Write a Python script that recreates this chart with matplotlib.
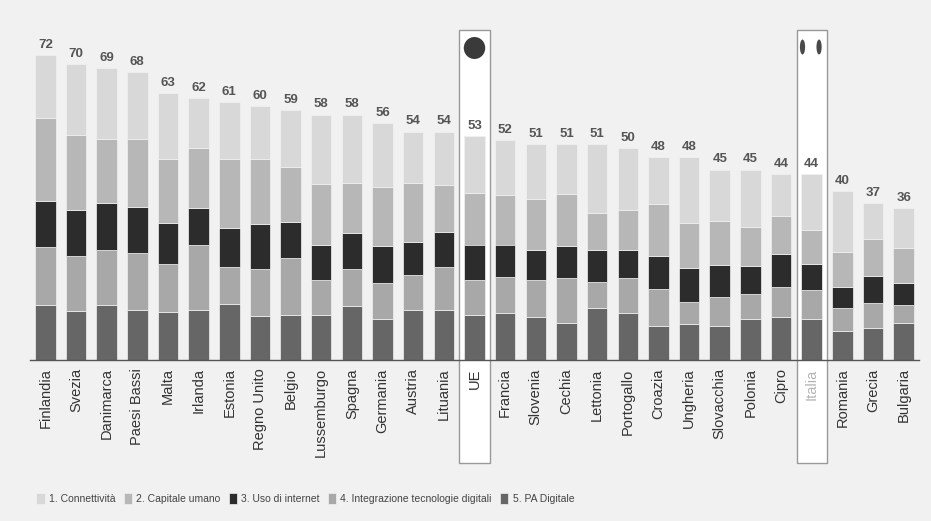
import matplotlib
matplotlib.use("Agg")
import matplotlib.pyplot as plt
import numpy as np
from matplotlib.patches import Rectangle, Ellipse
from matplotlib.transforms import blended_transform_factory

plt.rcParams['font.family'] = ['Liberation Sans', 'DejaVu Sans']

paesi = ['Finlandia', 'Svezia', 'Danimarca', 'Paesi Bassi', 'Malta', 'Irlanda',
         'Estonia', 'Regno Unito', 'Belgio', 'Lussemburgo', 'Spagna', 'Germania',
         'Austria', 'Lituania', 'UE', 'Francia', 'Slovenia', 'Cechia', 'Lettonia',
         'Portogallo', 'Croazia', 'Ungheria', 'Slovacchia', 'Polonia', 'Cipro',
         'Italia', 'Romania', 'Grecia', 'Bulgaria']

totale = [72, 70, 69, 68, 63, 62, 61, 60, 59, 58, 58, 56, 54, 54, 53, 52, 51, 51,
          51, 50, 48, 48, 45, 45, 44, 44, 40, 37, 36]

# componenti dal basso verso l'alto
pa_digitale = [13.0, 11.6, 13.0, 11.8, 11.4, 11.8, 13.2, 10.4, 10.6, 10.6, 12.7, 9.6,
               11.8, 11.8, 10.6, 11.0, 10.2, 8.8, 12.4, 11.0, 8.0, 8.5, 8.0, 9.8,
               10.2, 9.8, 6.9, 7.5, 8.8]
integrazione = [13.7, 13.0, 13.0, 13.5, 11.4, 15.3, 8.7, 11.1, 13.4, 8.3, 8.7, 8.5,
                8.3, 10.2, 8.4, 8.6, 8.7, 10.5, 6.0, 8.5, 8.7, 5.3, 6.8, 5.7,
                7.1, 6.7, 5.3, 5.9, 4.2]
uso_internet = [10.9, 10.9, 11.0, 10.9, 9.6, 8.9, 9.2, 10.6, 8.6, 8.4, 8.7, 8.8,
                7.9, 8.3, 8.3, 7.7, 7.2, 7.6, 7.5, 6.6, 7.9, 7.9, 7.6, 6.8,
                7.7, 6.3, 5.1, 6.4, 5.1]
capitale_umano = [19.7, 17.7, 15.3, 16.1, 15.2, 14.2, 16.5, 15.5, 13.0, 14.2, 11.7, 14.0,
                  13.9, 11.0, 12.2, 11.7, 12.0, 12.3, 8.8, 9.3, 12.3, 10.6, 10.5, 9.2,
                  9.0, 7.9, 8.3, 8.9, 8.3]
connettivita = [14.7, 16.8, 16.7, 15.7, 15.4, 11.8, 13.4, 12.4, 13.4, 16.5, 16.2, 15.1,
                12.1, 12.7, 13.5, 13.0, 12.9, 11.8, 16.3, 14.6, 11.1, 15.7, 12.1, 13.5,
                10.0, 13.3, 14.4, 8.3, 9.6]

serie = [
    ('5. PA Digitale', pa_digitale, '#666666'),
    ('4. Integrazione tecnologie digitali', integrazione, '#a8a8a8'),
    ('3. Uso di internet', uso_internet, '#2c2c2c'),
    ('2. Capitale umano', capitale_umano, '#b7b7b7'),
    ('1. Connettività', connettivita, '#d8d8d8'),
]

bg = '#f1f1f1'
fig = plt.figure(figsize=(9.31, 5.21), dpi=100, facecolor=bg)
W, H = 931, 521
ax = fig.add_axes([30 / W, 1 - 360 / H, 889 / W, 330 / H])
ax.set_facecolor(bg)

x = np.arange(len(paesi))
bottom = np.zeros(len(paesi))
handles = {}
for nome, valori, colore in serie:
    b = ax.bar(x, valori, width=0.67, bottom=bottom, color=colore,
               edgecolor=bg, linewidth=0.5, zorder=2, label=nome)
    handles[nome] = b
    bottom += np.array(valori)

for xi, t, top in zip(x, totale, bottom):
    ax.annotate(str(t), (xi, top), xytext=(0, 3), textcoords='offset points',
                ha='center', va='bottom', fontsize=9.5, fontweight='bold',
                color='#555555')

# riquadri bianchi per UE e Italia
trans = blended_transform_factory(ax.transData, ax.transAxes)
y_basso = -103 / 330
for nome in ['UE', 'Italia']:
    i = paesi.index(nome)
    ax.add_patch(Rectangle((i - 0.49, y_basso), 0.98, 1 - y_basso, transform=trans,
                           facecolor='white', edgecolor='#999999', linewidth=1,
                           zorder=0.5, clip_on=False))

# icone sopra i riquadri
i_ue = paesi.index('UE')
ax.add_patch(Ellipse((i_ue, 1 - 18 / 330), 0.7, 22 / 330, transform=trans,
                     facecolor='#3a3a3a', edgecolor='none', zorder=3, clip_on=False))
i_it = paesi.index('Italia')
for dx in (-0.3, 0.24):
    ax.add_patch(Ellipse((i_it + dx, 1 - 17 / 330), 0.17, 15 / 330, transform=trans,
                         facecolor='#4a4a4a', edgecolor='none', zorder=3, clip_on=False))

ax.set_xlim(-0.5, len(paesi) - 0.5)
ax.set_ylim(0, 78)
ax.set_xticks(x)
ax.set_xticklabels(paesi, rotation=90, fontsize=10.5, color='#333333')
ax.get_xticklabels()[i_it].set_color('#b5b5b5')
ax.tick_params(axis='x', length=0, pad=6)
ax.set_yticks([])
for s in ['top', 'right', 'left']:
    ax.spines[s].set_visible(False)
ax.spines['bottom'].set_color('#555555')
ax.spines['bottom'].set_linewidth(1)

ordine = ['1. Connettività', '2. Capitale umano', '3. Uso di internet',
          '4. Integrazione tecnologie digitali', '5. PA Digitale']
fig.legend([handles[n] for n in ordine], ordine, loc='lower left',
           bbox_to_anchor=(32 / W, 13 / H), ncol=5, frameon=False, fontsize=7.5,
           handlelength=0.8, handleheight=1.2, handletextpad=0.4, columnspacing=0.8,
           labelcolor='#444444', borderaxespad=0)

fig.savefig('out.png', dpi=100, facecolor=bg)
